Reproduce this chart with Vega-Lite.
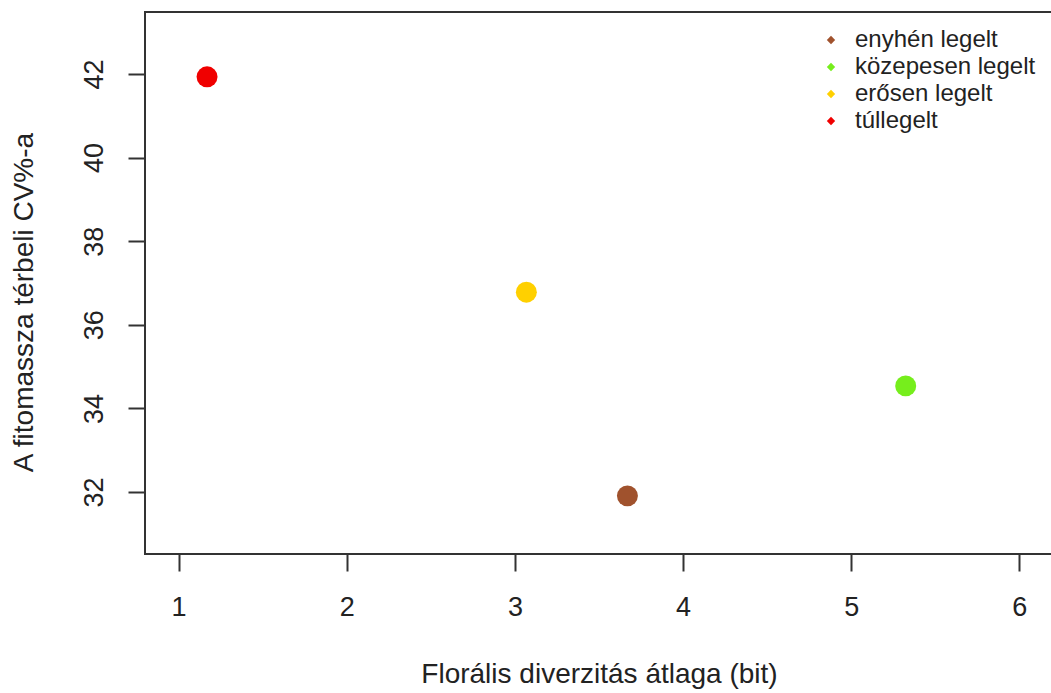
{
  "$schema": "https://vega.github.io/schema/vega-lite/v6.json",
  "autosize": {"type": "none"},
  "padding": {"left": 145, "top": 12, "right": 0, "bottom": 139},
  "width": 908,
  "height": 542,
  "background": "white",
  "config": {
    "view": {"stroke": "#333333", "strokeWidth": 2},
    "font": "Liberation Sans"
  },
  "data": {
    "values": [
      {"legeltetes": "enyhén legelt", "diverzitas": 3.669, "cv": 31.91},
      {"legeltetes": "közepesen legelt", "diverzitas": 5.324, "cv": 34.54},
      {"legeltetes": "erősen legelt", "diverzitas": 3.068, "cv": 36.78},
      {"legeltetes": "túllegelt", "diverzitas": 1.169, "cv": 41.93}
    ]
  },
  "mark": {"type": "point", "filled": true, "opacity": 1, "size": 440, "shape": "circle"},
  "encoding": {
    "x": {
      "field": "diverzitas",
      "type": "quantitative",
      "scale": {"domain": [0.8, 6.2], "nice": false, "zero": false},
      "axis": {
        "title": "Florális diverzitás átlaga (bit)",
        "values": [1, 2, 3, 4, 5, 6],
        "grid": false,
        "domain": false,
        "ticks": true,
        "tickSize": 17,
        "tickWidth": 2,
        "tickColor": "#333333",
        "labelFontSize": 27,
        "labelColor": "#222222",
        "labelPadding": 23,
        "titleFontSize": 28,
        "titleFontWeight": "normal",
        "titleColor": "#222222",
        "titlePadding": 40
      }
    },
    "y": {
      "field": "cv",
      "type": "quantitative",
      "scale": {"domain": [30.52, 43.48], "nice": false, "zero": false},
      "axis": {
        "title": "A fitomassza térbeli CV%-a",
        "values": [32, 34, 36, 38, 40, 42],
        "grid": false,
        "domain": false,
        "tickSize": 17,
        "tickWidth": 2,
        "tickColor": "#333333",
        "labelFontSize": 27,
        "labelColor": "#222222",
        "labelAngle": -90,
        "labelAlign": "center",
        "labelBaseline": "bottom",
        "labelPadding": 20,
        "titleFontSize": 28,
        "titleFontWeight": "normal",
        "titleColor": "#222222",
        "titlePadding": 42,
        "titleY": 290
      }
    },
    "color": {
      "field": "legeltetes",
      "type": "nominal",
      "scale": {
        "domain": ["enyhén legelt", "közepesen legelt", "erősen legelt", "túllegelt"],
        "range": ["#a0522d", "#76ee1c", "#ffd000", "#f00000"]
      },
      "legend": {
        "title": null,
        "orient": "none",
        "legendX": 674,
        "legendY": 16,
        "symbolType": "diamond",
        "symbolSize": 70,
        "symbolStrokeWidth": 0,
        "labelFontSize": 24,
        "labelColor": "#222222",
        "labelOffset": 12,
        "rowPadding": 3,
        "labelLimit": 400,
        "padding": 0
      }
    }
  }
}
